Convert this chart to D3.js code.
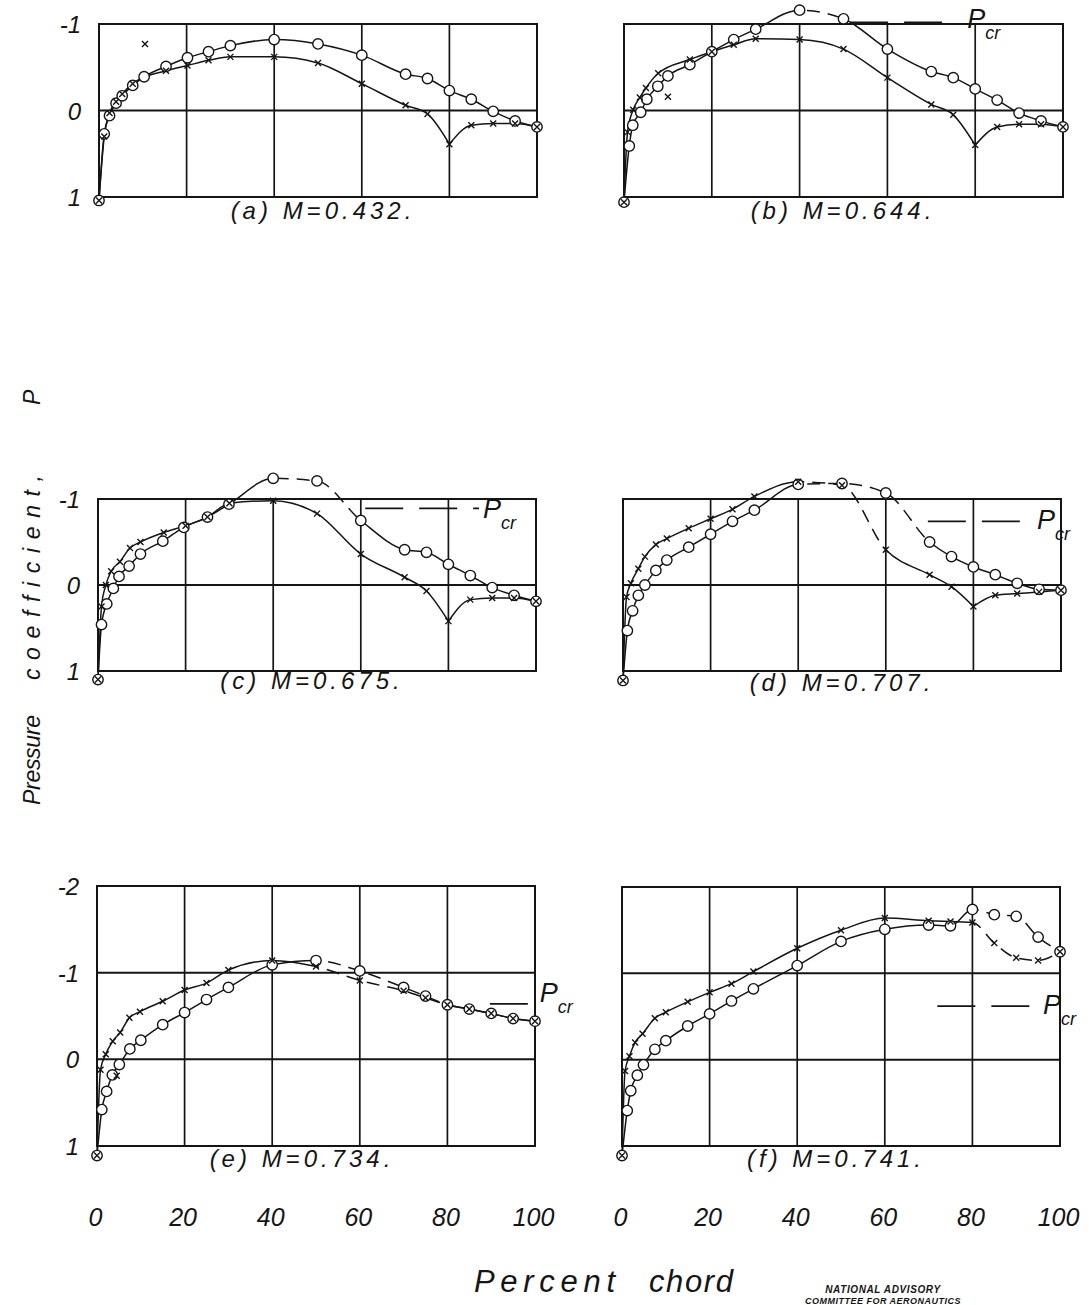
<!DOCTYPE html>
<html><head><meta charset="utf-8">
<script src="https://cdn.jsdelivr.net/npm/d3@7"></script>
<style>
body{margin:0;background:#fff}
svg{display:block}
text{font-family:"Liberation Sans",Arial,sans-serif;font-style:italic;fill:#151515}
</style>
</head><body>
<svg id="c" width="1089" height="1305"></svg>
<script>
// ---------- data ----------
const chordTicks = [0, 20, 40, 60, 80, 100];
const pTicksShort = [-1, 0, 1];
const pTicksTall = [-2, -1, 0, 1];
const pRanges = [[-1, 1], [-1, 1], [-1, 1], [-1, 1], [-2, 1], [-2, 1]];
const captions = ["(a) M=0.432.", "(b) M=0.644.", "(c) M=0.675.", "(d) M=0.707.", "(e) M=0.734.", "(f) M=0.741."];
const pcrValues = [null, -1.02, -0.89, -0.74, -0.64, -0.62];
const pcrSpan = [null, [51.5, 75], [61, 87], [69.6, 91.3], [89.7, 99.5], [72, 95]];
const upperDashed = [null, [40, 50], [40, 60], [40, 70], [50, 80], [80, 100]];
const lowerDashed = [null, null, null, [40, 60], [50, 80], [80, 100]];
const lowerCusp = [80, 80, 80, 80, null, null];

// upper surface (circles): [percent chord, P]
const upperA = [[0,1.04],[1.2,0.27],[2.4,0.06],[3.9,-0.085],[5.3,-0.17],[7.7,-0.29],[10.3,-0.39],[15.3,-0.51],[20.2,-0.61],[25,-0.68],[30,-0.75],[40,-0.82],[50,-0.77],[60,-0.64],[70,-0.42],[75,-0.37],[80,-0.23],[85,-0.13],[90,0.01],[95,0.12],[100,0.19]];
const upperB = [[0,1.06],[1.2,0.41],[2,0.17],[3.8,0.02],[5.2,-0.13],[7.7,-0.28],[10,-0.40],[15,-0.53],[20,-0.68],[25,-0.82],[30,-0.94],[40,-1.16],[50,-1.06],[60,-0.71],[70,-0.45],[75,-0.38],[80,-0.25],[85,-0.12],[90,0.03],[95,0.12],[100,0.19]];
const upperC = [[0,1.1],[0.8,0.46],[2,0.22],[3.5,0.04],[4.8,-0.10],[7.1,-0.22],[9.7,-0.36],[14.8,-0.51],[19.6,-0.67],[25,-0.79],[29.9,-0.94],[40,-1.24],[50,-1.21],[60,-0.75],[70,-0.41],[75,-0.38],[80,-0.24],[85,-0.11],[90,0.03],[95,0.12],[100,0.19]];
const upperD = [[0,1.11],[1,0.53],[2.2,0.30],[3.5,0.12],[5,0.0],[7.5,-0.17],[10,-0.29],[15,-0.44],[20,-0.59],[25,-0.74],[30,-0.87],[40,-1.17],[50,-1.18],[60,-1.07],[70,-0.50],[75,-0.33],[80,-0.21],[85,-0.12],[90,-0.02],[95,0.05],[100,0.06]];
const upperE = [[0,1.11],[1.1,0.58],[2.2,0.37],[3.5,0.18],[5.1,0.06],[7.5,-0.12],[10,-0.22],[15,-0.40],[20,-0.54],[25,-0.69],[30,-0.83],[40,-1.09],[50,-1.14],[60,-1.02],[70,-0.83],[75,-0.73],[80,-0.63],[85,-0.58],[90,-0.53],[95,-0.47],[100,-0.44]];
const upperF = [[0,1.11],[1.2,0.59],[2,0.36],[3.5,0.18],[4.9,0.06],[7.5,-0.12],[10,-0.22],[15,-0.39],[20,-0.53],[25,-0.68],[30,-0.82],[40,-1.09],[50,-1.37],[60,-1.51],[70,-1.56],[75,-1.55],[80,-1.74],[85,-1.68],[90,-1.66],[95,-1.42],[100,-1.25]];

// lower surface (crosses)
const lowerA = [[0,1.04],[1.2,0.3],[2.4,0.03],[3.9,-0.1],[5.3,-0.19],[7.7,-0.31],[15.3,-0.46],[20.2,-0.52],[25,-0.58],[30,-0.62],[40,-0.62],[50,-0.55],[60,-0.31],[70,-0.06],[75,0.04],[80,0.39],[85,0.17],[90,0.15],[95,0.15],[100,0.19]];
const lowerB = [[0,1.06],[0.8,0.25],[2.1,-0.01],[3.6,-0.15],[5,-0.26],[7.8,-0.43],[15,-0.59],[20,-0.68],[25,-0.76],[30,-0.83],[40,-0.82],[50,-0.71],[60,-0.38],[70,-0.07],[75,0.05],[80,0.40],[85,0.19],[90,0.16],[95,0.16],[100,0.19]];
const lowerC = [[0,1.1],[0.8,0.25],[1.8,0.0],[3,-0.16],[5,-0.27],[7.3,-0.43],[9.7,-0.50],[15,-0.61],[20,-0.69],[25,-0.79],[30,-0.95],[40,-0.98],[50,-0.83],[60,-0.36],[70,-0.09],[75,0.07],[80,0.42],[85,0.17],[90,0.15],[95,0.15],[100,0.19]];
const lowerD = [[0,1.11],[0.8,0.14],[1.8,-0.02],[3.5,-0.19],[5,-0.33],[7.5,-0.47],[10,-0.54],[15,-0.66],[20,-0.77],[25,-0.88],[30,-1.03],[40,-1.20],[50,-1.16],[60,-0.41],[70,-0.12],[75,0.02],[80,0.25],[85,0.12],[90,0.10],[95,0.08],[100,0.06]];
const lowerE = [[0,1.11],[0.8,0.12],[2,-0.06],[3.6,-0.21],[5.3,-0.31],[7.4,-0.48],[9.8,-0.55],[15,-0.67],[20,-0.80],[25,-0.88],[30,-1.03],[40,-1.14],[50,-1.07],[60,-0.91],[70,-0.79],[75,-0.71],[80,-0.63],[85,-0.58],[90,-0.53],[95,-0.47],[100,-0.44]];
const lowerF = [[0,1.11],[0.7,0.13],[1.7,-0.04],[3,-0.20],[4.7,-0.30],[7.5,-0.48],[10,-0.55],[15,-0.67],[20,-0.78],[25,-0.88],[30,-1.02],[40,-1.29],[50,-1.50],[60,-1.64],[70,-1.61],[75,-1.60],[80,-1.59],[85,-1.35],[90,-1.18],[95,-1.15],[100,-1.25]];

// stray readings
const lowerStrays = [[[10.5,-0.77]], [[10,-0.16]], [], [], [[4.5,0.19]], []];

const upperSets = [upperA, upperB, upperC, upperD, upperE, upperF];
const lowerSets = [lowerA, lowerB, lowerC, lowerD, lowerE, lowerF];

// ---------- layout (pixels) ----------
const frames = [
  {x:[99,537],  y:[24,197]},
  {x:[624,1063],y:[24,197]},
  {x:[98,536],  y:[499,671]},
  {x:[623,1061],y:[499,671]},
  {x:[97,535],  y:[886,1146]},
  {x:[622,1060],y:[887,1146]}
];
const captionPos = [[323,219],[843,219],[312,689],[842,691],[302,1167],[836,1167]];
const pcrLabelOff = [null,[14,6],[4,10],[14,8],[7,-2],[5,8]];

const svg = d3.select("#c");
const defs = svg.append("defs");
const ink = "#151515";

frames.forEach((f, i) => {
  const x = d3.scaleLinear().domain([0, 100]).range(f.x);
  const y = d3.scaleLinear().domain(pRanges[i]).range(f.y);
  const g = svg.append("g");
  const yTicks = pRanges[i][0] === -2 ? pTicksTall : pTicksShort;

  // grid
  g.selectAll(".vg").data(chordTicks.slice(1, -1)).join("line")
    .attr("x1", d => x(d)).attr("x2", d => x(d)).attr("y1", f.y[0]).attr("y2", f.y[1])
    .attr("stroke", ink).attr("stroke-width", 1.7);
  g.selectAll(".hg").data(yTicks.slice(1, -1)).join("line")
    .attr("y1", d => y(d)).attr("y2", d => y(d)).attr("x1", f.x[0]).attr("x2", f.x[1])
    .attr("stroke", ink).attr("stroke-width", 2);
  g.append("rect").attr("x", f.x[0]).attr("y", f.y[0])
    .attr("width", f.x[1] - f.x[0]).attr("height", f.y[1] - f.y[0])
    .attr("fill", "none").attr("stroke", ink).attr("stroke-width", 2);

  // P tick labels on left column
  if (i % 2 === 0) {
    const ax = d3.axisLeft(y).tickValues(yTicks).tickSize(0).tickPadding(0)
      .tickFormat(d => (d < 0 ? "-" : "") + Math.abs(d));
    const ag = svg.append("g").attr("transform", `translate(${f.x[0] - 18},0)`).call(ax);
    ag.select(".domain").remove();
    ag.selectAll("text").attr("font-size", 24).attr("font-family", "Liberation Sans")
      .attr("font-style", "italic").attr("fill", ink).attr("dy", "0.36em");
  }

  // P_cr line
  if (pcrValues[i] !== null) {
    const yy = y(pcrValues[i]);
    const x0 = x(pcrSpan[i][0]), x1 = x(pcrSpan[i][1]);
    g.append("line").attr("x1", x0).attr("x2", x1).attr("y1", yy).attr("y2", yy)
      .attr("stroke", ink).attr("stroke-width", 1.7).attr("stroke-dasharray", "38,16");
    const t = g.append("text").attr("x", x1 + pcrLabelOff[i][0]).attr("y", yy + pcrLabelOff[i][1])
      .attr("font-size", 27);
    t.append("tspan").text("P");
    t.append("tspan").attr("font-size", 18).attr("dx", 0).attr("dy", 11).text("cr");
  }

  const line = d3.line().x(d => x(d[0])).y(d => y(d[1])).curve(d3.curveMonotoneX);
  function curve(data, dash, cusp, id) {
    const pieces = cusp == null ? [data] : [data.filter(d => d[0] <= cusp), data.filter(d => d[0] >= cusp)];
    const dStr = pieces.map(p => line(p)).join("");
    const style = p => p.attr("fill", "none").attr("stroke", ink).attr("stroke-width", 1.5);
    if (!dash) { g.append("path").attr("d", dStr).call(style); return; }
    const a = x(dash[0]), b = x(dash[1]);
    const cs = defs.append("clipPath").attr("id", id + "s");
    cs.append("rect").attr("x", 0).attr("y", 0).attr("width", a).attr("height", 1305);
    cs.append("rect").attr("x", b).attr("y", 0).attr("width", 1089 - b).attr("height", 1305);
    defs.append("clipPath").attr("id", id + "d").append("rect")
      .attr("x", a).attr("y", 0).attr("width", b - a).attr("height", 1305);
    g.append("path").attr("d", dStr).attr("clip-path", `url(#${id}s)`).call(style);
    g.append("path").attr("d", dStr).attr("clip-path", `url(#${id}d)`).call(style)
      .attr("stroke-dasharray", "13,8");
  }
  curve(upperSets[i], upperDashed[i], null, "u" + i);
  curve(lowerSets[i], lowerDashed[i], lowerCusp[i], "l" + i);

  // markers
  g.selectAll(".circ").data(upperSets[i]).join("circle")
    .attr("cx", d => x(d[0])).attr("cy", d => y(d[1])).attr("r", 5.2)
    .attr("fill", "#fff").attr("stroke", ink).attr("stroke-width", 1.4);
  const cross = "M-3,-3L3,3M-3,3L3,-3";
  g.selectAll(".crs").data(lowerSets[i].concat(lowerStrays[i])).join("path")
    .attr("transform", d => `translate(${x(d[0])},${y(d[1])})`).attr("d", cross)
    .attr("stroke", ink).attr("stroke-width", 1.4).attr("fill", "none");

  // caption
  g.append("text").attr("x", captionPos[i][0]).attr("y", captionPos[i][1])
    .attr("text-anchor", "middle").attr("font-size", 24).attr("letter-spacing", 4)
    .text(captions[i]);
});

// shared chord axes
[4, 5].forEach(i => {
  const x = d3.scaleLinear().domain([0, 100]).range(frames[i].x);
  const ax = d3.axisBottom(x).tickValues(chordTicks).tickSize(0).tickPadding(0).tickFormat(d => d);
  const ag = svg.append("g").attr("transform", "translate(-2,1217)").call(ax);
  ag.select(".domain").remove();
  ag.selectAll("text").attr("font-size", 25).attr("font-family", "Liberation Sans")
    .attr("font-style", "italic").attr("fill", ink).attr("dy", "0.36em");
});

// axis titles
svg.append("text").attr("x", 474).attr("y", 1292).attr("font-size", 31)
  .attr("textLength", 141).attr("lengthAdjust", "spacing").text("Percent");
svg.append("text").attr("x", 649).attr("y", 1292).attr("font-size", 31)
  .attr("textLength", 84).attr("lengthAdjust", "spacing").text("chord");

const yt = [["Pressure", 805, 90], ["coefficient,", 680, 205], ["P", 405, 20]];
yt.forEach(([s, y0, len]) => {
  svg.append("text").attr("transform", `translate(40,${y0}) rotate(-90)`)
    .attr("font-size", 23).attr("textLength", len).attr("lengthAdjust", "spacing").text(s);
});

svg.append("text").attr("x", 883).attr("y", 1293).attr("text-anchor", "middle")
  .attr("font-size", 10).attr("font-weight", "bold").attr("font-style", "normal")
  .attr("letter-spacing", 0.6).text("NATIONAL ADVISORY");
svg.append("text").attr("x", 883).attr("y", 1304).attr("text-anchor", "middle")
  .attr("font-size", 9).attr("font-weight", "bold").attr("font-style", "normal")
  .attr("letter-spacing", 0.5).text("COMMITTEE FOR AERONAUTICS");
</script>
</body></html>
